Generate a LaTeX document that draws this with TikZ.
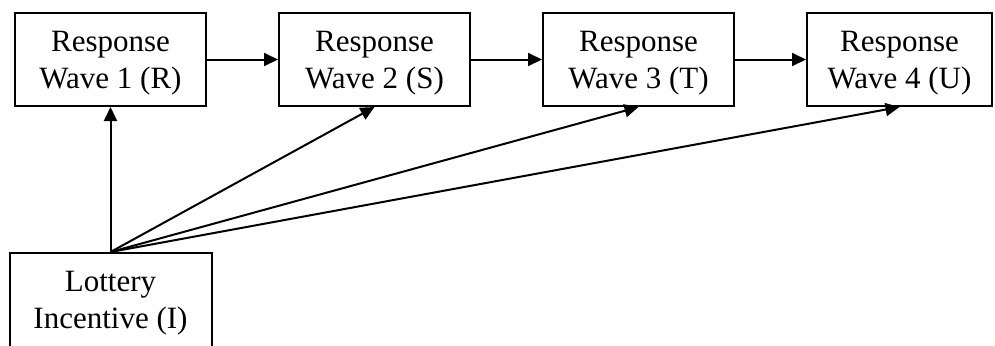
\documentclass[tikz,border=0pt]{standalone}
\usepackage{fontspec}
\setmainfont{Liberation Serif}
\usetikzlibrary{arrows.meta, positioning}

\begin{document}
\begin{tikzpicture}[
    x = 0.5pt, y = -0.5pt,
    node distance = 35.5pt,
    block/.style = {draw, line width=1pt, rectangle, minimum width=95.5pt, align=center, inner sep=0pt, text height=37.5pt, text depth=9pt, font=\fontsize{15.5}{18.5}\selectfont},
    line/.style = {-{Triangle[length=7pt, width=6.5pt]}, line width=1pt}
]
    \useasboundingbox (0,0) rectangle (995,345);

    % Nodes
    \node [block, anchor=north west] (wave1) at (14,12) {Response\\Wave 1 (R)};
    \node [block, right=of wave1] (wave2) {Response\\Wave 2 (S)};
    \node [block, right=of wave2] (wave3) {Response\\Wave 3 (T)};
    \node [block, right=of wave3, minimum width=92.5pt] (wave4) {Response\\Wave 4 (U)};
    \node [block, below=72.5pt of wave1.south, anchor=north, minimum width=101pt, text depth=11pt] (lottery) {Lottery\\Incentive (I)};

    % Edges
    \draw [line] (wave1) -- (wave2);
    \draw [line] (wave2) -- (wave3);
    \draw [line] (wave3) -- (wave4);

    % Edges from the incentive
    \foreach \w in {1,...,4}
        \draw [line] (lottery.north) -- (wave\w.south);

\end{tikzpicture}
\end{document}
